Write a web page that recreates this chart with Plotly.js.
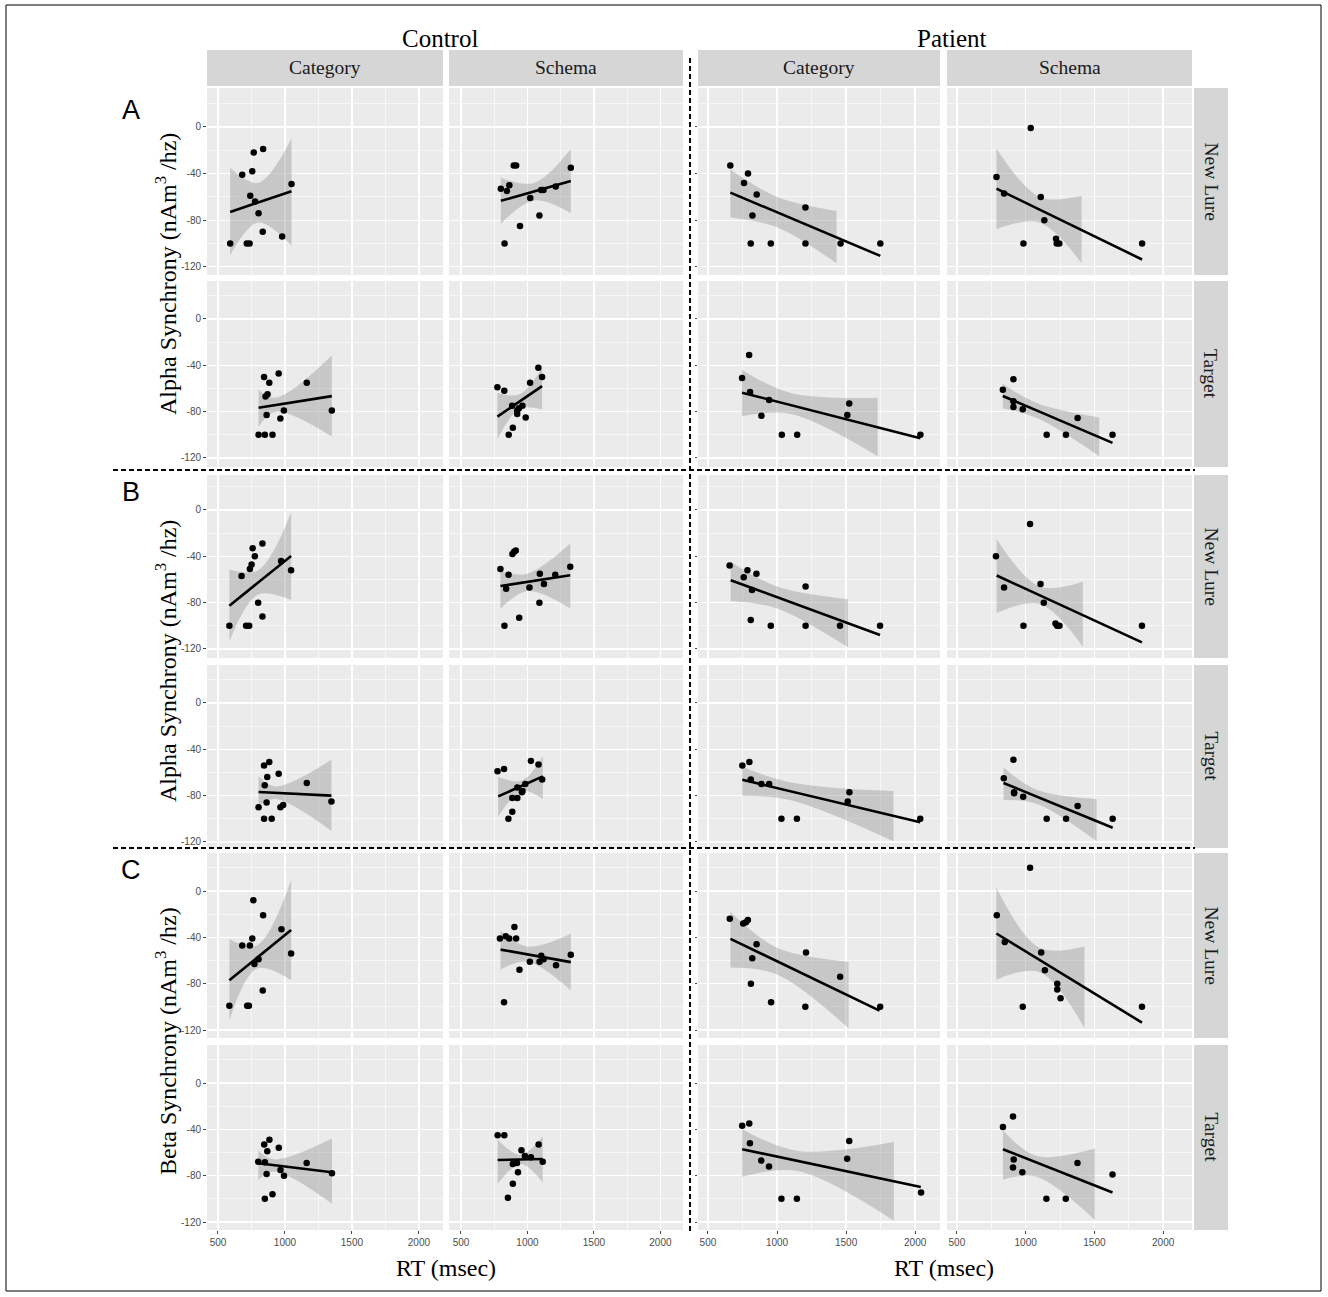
<!DOCTYPE html>
<html><head><meta charset="utf-8">
<script src="https://cdn.plot.ly/plotly-3.0.1.min.js"></script>
<style>html,body{margin:0;padding:0;background:#fff;}#chart{width:1328px;height:1297px;}</style>
</head><body><div id="chart"></div>
<script>
// ---------- DATA (RT in msec, synchrony values) ----------
// Naming: row (A1 = Alpha New Lure, A2 = Alpha Target, B1/B2 second alpha set, C1/C2 Beta) _ column
// CC = Control Category, CS = Control Schema, PC = Patient Category, PS = Patient Schema
const A1_CC = {x:[591,681,767,837,756,741,777,803,834,715,736,979,1049], y:[-100,-41,-22,-19,-38,-59,-64,-74,-90,-100,-100,-94,-49],
  fitX:[591,1049], fitY:[-72.9,-55.1], bandX:[591,800,1049], lo:[-110,-82,-102], hi:[-35,-48,-10]};
const A1_CS = {x:[800,846,864,897,915,828,944,1021,1090,1103,1121,1213,1326], y:[-53,-55,-50,-33,-33,-100,-85,-61,-76,-54,-54,-51,-35],
  fitX:[800,1326], fitY:[-63.4,-46.3], bandX:[800,1050,1326], lo:[-83,-63,-74], hi:[-43.5,-48,-19]};
const A1_PC = {x:[662,790,761,853,822,810,955,1206,1206,1460,1748], y:[-33,-40,-48,-58,-76,-100,-100,-69,-100,-100,-100],
  fitX:[662,1748], fitY:[-56.3,-110.6], bandX:[662,1000,1431], lo:[-77.7,-86,-117], hi:[-36.6,-60,-72]};
const A1_PS = {x:[1037,788,843,1110,1136,984,1221,1226,1245,1847], y:[-1,-43,-57,-60,-80,-100,-96,-100,-100,-100],
  fitX:[788,1847], fitY:[-52.9,-113.7], bandX:[788,1100,1407], lo:[-87.7,-82,-117], hi:[-18.6,-60,-59]};

const A2_CC = {x:[803,850,907,844,883,953,855,870,863,966,992,1163,1350], y:[-100,-100,-100,-50,-55,-47,-67,-65,-83,-86,-79,-55,-79],
  fitX:[803,1350], fitY:[-76.6,-66.6], bandX:[803,930,1350], lo:[-93,-80,-101.5], hi:[-61,-68,-31.5]};
const A2_CS = {x:[774,826,859,890,885,923,936,962,923,987,1020,1082,1110], y:[-59,-62,-100,-94,-75,-79,-77,-75,-82,-85,-55,-42,-50],
  fitX:[774,1110], fitY:[-84.3,-58], bandX:[774,940,1110], lo:[-104,-77.5,-78], hi:[-64,-65,-42]};
const A2_PC = {x:[798,747,805,943,887,1035,1146,1523,1509,2038], y:[-31,-51,-63,-70,-83.5,-100,-100,-73,-83,-100],
  fitX:[747,2038], fitY:[-63.6,-102.9], bandX:[747,1100,1729], lo:[-84,-82,-118.5], hi:[-44,-64,-68]};
const A2_PS = {x:[911,834,911,911,979,1153,1293,1378,1632], y:[-52,-61,-71,-76,-78,-100,-100,-85.5,-100],
  fitX:[834,1632], fitY:[-66.5,-107], bandX:[834,1090,1535], lo:[-77,-86,-118.5], hi:[-56,-73,-85]};

const B1_CC = {x:[585,676,759,832,775,751,738,710,733,800,832,971,1046], y:[-100,-57,-33,-29,-40,-47,-51,-100,-100,-80,-92,-44,-52],
  fitX:[585,1046], fitY:[-82.6,-39.7], bandX:[585,800,1046], lo:[-113.4,-73,-77.7], hi:[-51.4,-52,-2]};
const B1_CS = {x:[797,858,840,887,900,912,827,938,1015,1093,1090,1124,1209,1322], y:[-51,-56,-68,-38,-36,-35,-100,-93,-67,-55,-80,-64,-56,-49],
  fitX:[797,1322], fitY:[-65.7,-56.3], bandX:[797,1000,1322], lo:[-85.4,-70,-85], hi:[-53,-55,-29]};
const B1_PC = {x:[657,786,759,851,819,810,955,1207,1207,1456,1746], y:[-48,-52,-58,-55,-69,-95,-100,-66,-100,-100,-100],
  fitX:[665,1746], fitY:[-60.6,-108], bandX:[665,1000,1514], lo:[-78.6,-85,-118.6], hi:[-44.6,-66,-77]};
const B1_PS = {x:[1032,784,843,1108,1132,984,1217,1229,1246,1846], y:[-12,-40,-67,-64,-80,-100,-98,-100,-100,-100],
  fitX:[789,1846], fitY:[-56.6,-114.3], bandX:[789,1100,1416], lo:[-89,-81,-118], hi:[-25,-66,-62]};

const B2_CC = {x:[803,844,901,844,883,849,868,863,953,966,987,1163,1347], y:[-90,-100,-100,-54,-51,-71,-64,-86,-61,-90,-88,-69,-85],
  fitX:[803,1347], fitY:[-76.9,-80], bandX:[803,930,1347], lo:[-89,-83,-110.6], hi:[-63,-72,-49]};
const B2_CS = {x:[775,824,857,886,886,924,924,958,963,984,1026,1083,1111], y:[-59,-57,-100,-94,-82,-82,-73,-77,-76,-70,-50,-53,-66],
  fitX:[780,1116], fitY:[-80.6,-63.4], bandX:[780,960,1116], lo:[-98,-76,-83], hi:[-64,-67,-46]};
const B2_PC = {x:[749,800,810,887,943,1032,1144,1524,1512,2037], y:[-54,-51,-66,-70,-70,-100,-100,-77,-85,-100],
  fitX:[749,2037], fitY:[-66.3,-102.9], bandX:[749,1100,1843], lo:[-80,-84,-119.4], hi:[-55,-68.6,-76]};
const B2_PS = {x:[911,841,916,916,982,1153,1294,1378,1633], y:[-49,-65,-78,-77,-81,-100,-100,-89,-100],
  fitX:[839,1633], fitY:[-69.1,-107.7], bandX:[839,1080,1516], lo:[-83.7,-87,-119.4], hi:[-55.7,-75,-83]};

const C1_CC = {x:[585,681,738,764,756,837,718,731,772,803,834,974,1046], y:[-99,-47,-47,-8,-41,-21,-99,-99,-63,-59,-86,-33,-54],
  fitX:[585,1046], fitY:[-77.1,-33.7], bandX:[585,790,1046], lo:[-112,-67,-77], hi:[-41.4,-47,9.4]};
const C1_CS = {x:[793,837,863,902,915,824,940,1018,1091,1104,1122,1215,1326], y:[-41,-39,-41,-31,-41,-96,-68,-61,-61,-56,-59,-64,-55],
  fitX:[798,1326], fitY:[-50.6,-61.4], bandX:[798,1000,1326], lo:[-67.7,-61,-85.7], hi:[-34.3,-48,-37]};
const C1_PC = {x:[658,755,775,789,852,821,811,957,1210,1205,1457,1747], y:[-24,-28,-27,-25,-46,-58,-80,-96,-53,-100,-74,-100],
  fitX:[663,1742], fitY:[-41.3,-103.2], bandX:[663,1000,1518], lo:[-66,-72,-118.5], hi:[-18,-49,-61]};
const C1_PS = {x:[1032,790,848,1113,1140,1230,1230,1254,979,1846], y:[20,-21,-44,-53,-68.5,-80,-85,-92.5,-100,-100],
  fitX:[787,1846], fitY:[-36.7,-113.6], bandX:[787,1100,1428], lo:[-76.6,-70,-118.5], hi:[3,-49,-48]};

const C2_CC = {x:[801,845,884,850,868,863,850,907,954,967,993,1162,1351], y:[-68,-53,-49,-68.5,-59,-78.5,-100,-96,-56,-75,-80,-69,-78],
  fitX:[801,1351], fitY:[-69.3,-77.1], bandX:[801,920,1351], lo:[-83.7,-76.5,-104.3], hi:[-58,-66,-48]};
const C2_CS = {x:[776,826,853,890,890,929,921,955,981,1026,1084,1115], y:[-45,-45,-99,-87,-70,-77,-69,-58,-63,-64,-53,-68],
  fitX:[776,1115], fitY:[-66.5,-65.6], bandX:[776,950,1115], lo:[-87,-70,-86], hi:[-49,-62,-46]};
const C2_PC = {x:[748,799,804,886,942,1032,1144,1523,1508,2043], y:[-37,-35,-52,-67,-72,-100,-100,-50,-65.5,-94.5],
  fitX:[748,2041], fitY:[-57.2,-89.7], bandX:[748,1150,1846], lo:[-81,-76,-119], hi:[-40,-58.6,-51]};
const C2_PS = {x:[835,908,913,908,976,1151,1292,1377,1632], y:[-38,-29,-66,-73,-77,-100,-100,-69,-79],
  fitX:[835,1632], fitY:[-57.2,-94.5], bandX:[835,1080,1504], lo:[-83.3,-81,-118.4], hi:[-40.8,-63,-56.6]};

// Labels
const groupLabels = ['Control','Patient'];
const columnLabels = ['Category','Schema','Category','Schema'];
const rowLabels = ['New Lure','Target','New Lure','Target','New Lure','Target'];
const blockLetters = ['A','B','C'];
const yTitles = ['Alpha Synchrony (nAm<sup>3</sup> /hz)','Alpha Synchrony (nAm<sup>3</sup> /hz)','Beta Synchrony (nAm<sup>3</sup> /hz)'];
const xTitle = 'RT (msec)';
const xTickVals = [500,1000,1500,2000];
const xTickText = ['500','1000','1500','2000'];
const xMinorVals = [750,1250,1750];
const yTickVals = [-120,-80,-40,0];
const yTickText = ['-120','-80','-40','0'];
const yMinorVals = [-100,-60,-20,20];

const panels = [
  [A1_CC,A1_CS,A1_PC,A1_PS],
  [A2_CC,A2_CS,A2_PC,A2_PS],
  [B1_CC,B1_CS,B1_PC,B1_PS],
  [B2_CC,B2_CS,B2_PC,B2_PS],
  [C1_CC,C1_CS,C1_PC,C1_PS],
  [C2_CC,C2_CS,C2_PC,C2_PS]
];

// ---------- LAYOUT GEOMETRY (pixels) ----------
const W = 1328, H = 1297;
const colPx = [[207,443],[449,683],[698,940],[947,1192]];
const rowPx = [[88,275],[281,467],[475,658],[665,848],[853,1038],[1045,1230]];
const xRanges = [[418,2180],[410,2170],[428,2180],[428,2210]];
const yRanges = [[-127,33.4],[-127.8,32.8],[-127.8,30.2],[-125.2,32.8],[-126.9,32.8],[-126.9,32.8]];

const px = v => v / W;
const py = v => 1 - v / H;

const serif = 'Liberation Serif, Times New Roman, serif';
const sans = 'Liberation Sans, Arial, sans-serif';

const traces = [];
const layout = {
  width: W, height: H,
  margin: {l:0, r:0, t:0, b:0, pad:0},
  paper_bgcolor: '#ffffff',
  plot_bgcolor: '#ebebeb',
  showlegend: false,
  shapes: [], annotations: [],
  font: {family: sans}
};

let n = 0;
panels.forEach((row, ri) => {
  row.forEach((p, ci) => {
    n++;
    const xn = n === 1 ? 'x' : 'x' + n;
    const yn = n === 1 ? 'y' : 'y' + n;
    const base = {xaxis: xn, yaxis: yn, type: 'scatter', hoverinfo: 'skip', showlegend: false};
    traces.push(Object.assign({}, base, {x: p.bandX, y: p.lo, mode: 'lines', line: {width: 0, shape: 'spline', color: 'rgba(0,0,0,0)'}}));
    traces.push(Object.assign({}, base, {x: p.bandX, y: p.hi, mode: 'lines', fill: 'tonexty', fillcolor: 'rgba(150,150,150,0.42)', line: {width: 0, shape: 'spline', color: 'rgba(0,0,0,0)'}}));
    traces.push(Object.assign({}, base, {x: p.fitX, y: p.fitY, mode: 'lines', line: {color: '#000', width: 2.6}}));
    traces.push(Object.assign({}, base, {x: p.x, y: p.y, mode: 'markers', marker: {color: '#000', size: 6.5}}));

    const bottomRow = ri === panels.length - 1;
    layout[n === 1 ? 'xaxis' : 'xaxis' + n] = {
      domain: [px(colPx[ci][0]), px(colPx[ci][1])], range: xRanges[ci], anchor: yn,
      showgrid: true, gridcolor: '#ffffff', gridwidth: 1.3, zeroline: false, showline: false,
      tickmode: 'array', tickvals: xTickVals, ticktext: xTickText,
      showticklabels: bottomRow, ticks: bottomRow ? 'outside' : '', ticklen: 3, tickwidth: 1, tickcolor: '#444',
      tickfont: {family: sans, size: 10, color: '#4d4d4d'},
      minor: {tickmode: 'array', tickvals: xMinorVals, showgrid: true, gridcolor: '#ffffff', gridwidth: 0.6, ticks: ''},
      fixedrange: true
    };
    const leftCol = ci === 0;
    layout[n === 1 ? 'yaxis' : 'yaxis' + n] = {
      domain: [py(rowPx[ri][1]), py(rowPx[ri][0])], range: yRanges[ri], anchor: xn,
      showgrid: true, gridcolor: '#ffffff', gridwidth: 1.3, zeroline: false, showline: false,
      tickmode: 'array', tickvals: yTickVals, ticktext: yTickText,
      showticklabels: leftCol, ticks: (leftCol || ci === 2) ? 'outside' : '', ticklen: leftCol ? 3 : 2, tickwidth: 1, tickcolor: '#444',
      tickfont: {family: sans, size: 10, color: '#4d4d4d'},
      minor: {tickmode: 'array', tickvals: yMinorVals, showgrid: true, gridcolor: '#ffffff', gridwidth: 0.6, ticks: ''},
      fixedrange: true
    };
  });
});

// Column strips (top)
colPx.forEach((c, ci) => {
  layout.shapes.push({type: 'rect', xref: 'paper', yref: 'paper', x0: px(c[0]), x1: px(c[1]), y0: py(86), y1: py(50),
    fillcolor: '#d6d6d6', line: {width: 0}, layer: 'below'});
  layout.annotations.push({xref: 'paper', yref: 'paper', x: px((c[0] + c[1]) / 2), y: py(68), text: columnLabels[ci],
    showarrow: false, xanchor: 'center', yanchor: 'middle', font: {family: serif, size: 19.5, color: '#1a1a1a'}});
});
// Row strips (right)
rowPx.forEach((r, ri) => {
  layout.shapes.push({type: 'rect', xref: 'paper', yref: 'paper', x0: px(1194), x1: px(1228), y0: py(r[1]), y1: py(r[0]),
    fillcolor: '#d6d6d6', line: {width: 0}, layer: 'below'});
  layout.annotations.push({xref: 'paper', yref: 'paper', x: px(1211), y: py((r[0] + r[1]) / 2), text: rowLabels[ri],
    showarrow: false, textangle: 90, xanchor: 'center', yanchor: 'middle', font: {family: serif, size: 19.5, color: '#1a1a1a'}});
});
// Group headers
layout.annotations.push({xref: 'paper', yref: 'paper', x: px(440), y: py(38), text: groupLabels[0], showarrow: false,
  xanchor: 'center', yanchor: 'middle', font: {family: serif, size: 25, color: '#000'}});
layout.annotations.push({xref: 'paper', yref: 'paper', x: px(951), y: py(38), text: groupLabels[1], showarrow: false,
  xanchor: 'center', yanchor: 'middle', font: {family: serif, size: 25, color: '#000'}});
// Block letters and y titles
const blockTop = [110, 492, 870];
const blockMid = [274, 661, 1041];
blockLetters.forEach((b, bi) => {
  layout.annotations.push({xref: 'paper', yref: 'paper', x: px(131), y: py(blockTop[bi]), text: b, showarrow: false,
    xanchor: 'center', yanchor: 'middle', font: {family: sans, size: 27, color: '#000'}});
  layout.annotations.push({xref: 'paper', yref: 'paper', x: px(166), y: py(blockMid[bi]), text: yTitles[bi], showarrow: false,
    textangle: -90, xanchor: 'center', yanchor: 'middle', font: {family: serif, size: 24, color: '#000'}});
});
// x titles
[446, 944].forEach(xc => {
  layout.annotations.push({xref: 'paper', yref: 'paper', x: px(xc), y: py(1268), text: xTitle, showarrow: false,
    xanchor: 'center', yanchor: 'middle', font: {family: serif, size: 24, color: '#000'}});
});
// Dashed separators
const dash = {color: '#000', width: 2, dash: '5px,3px'};
layout.shapes.push({type: 'line', xref: 'paper', yref: 'paper', x0: px(690), x1: px(690), y0: py(58), y1: py(1233), line: dash});
layout.shapes.push({type: 'line', xref: 'paper', yref: 'paper', x0: px(113), x1: px(1195), y0: py(470), y1: py(470), line: dash});
layout.shapes.push({type: 'line', xref: 'paper', yref: 'paper', x0: px(113), x1: px(1195), y0: py(848), y1: py(848), line: dash});
// Outer frame
layout.shapes.push({type: 'rect', xref: 'paper', yref: 'paper', x0: px(6), x1: px(1321), y0: py(1291), y1: py(5),
  line: {color: '#000', width: 1}, fillcolor: 'rgba(0,0,0,0)'});

Plotly.newPlot('chart', traces, layout, {displayModeBar: false, staticPlot: true});
</script>
</body></html>
